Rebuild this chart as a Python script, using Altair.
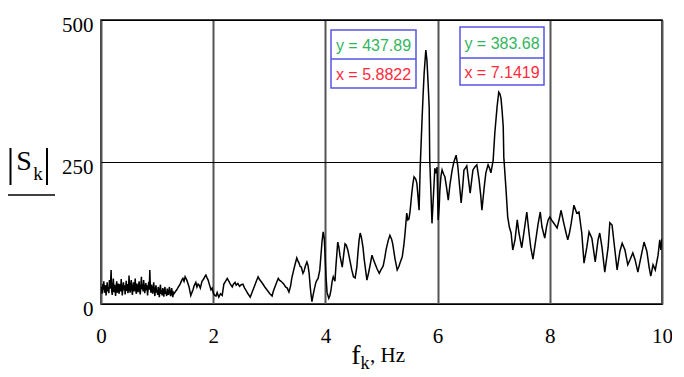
import altair as alt
import pandas as pd

# ---- data ----
noise_step = 0.01  # Hz spacing of the dense low-frequency part (0 .. 1.30 Hz)
noise_amp = [
    22, 30, 18, 35, 25, 40, 20, 28, 33, 15,
    26, 38, 22, 30, 19, 42, 27, 35, 60, 24,
    16, 30, 45, 21, 34, 26, 14, 31, 40, 20,
    28, 36, 18, 25, 35, 22, 44, 27, 15, 30,
    38, 24, 33, 17, 29, 41, 23, 35, 19, 27,
    50, 26, 20, 34, 42, 25, 16, 31, 38, 22,
    29, 45, 24, 18, 36, 27, 21, 33, 40, 23,
    17, 30, 48, 26, 35, 22, 42, 31, 19, 28,
    37, 24, 33, 15, 27, 39, 25, 60, 30, 20,
    34, 26, 18, 29, 38, 22, 14, 27, 33, 20,
    25, 16, 30, 22, 12, 26, 34, 18, 24, 15,
    28, 20, 13, 25, 30, 18, 22, 14, 27, 20,
    16, 24, 30, 19, 14, 22, 28, 17, 12, 20, 18,
]

tail_freq = [
    1.35, 1.38, 1.41, 1.44, 1.46, 1.48, 1.50, 1.52, 1.53, 1.55, 1.57, 1.59, 1.60, 1.62, 1.64, 1.66,
    1.69, 1.71, 1.73, 1.75, 1.77, 1.80, 1.83, 1.85, 1.87, 1.89, 1.91, 1.93, 1.96, 1.98, 2.00, 2.02,
    2.05, 2.07, 2.10, 2.13, 2.16, 2.19, 2.22, 2.25, 2.28, 2.30, 2.34, 2.36, 2.39, 2.41, 2.44, 2.47,
    2.50, 2.53, 2.56, 2.58, 2.62, 2.66, 2.69, 2.73, 2.76, 2.80, 2.82, 2.85, 2.88, 2.92, 2.95, 2.98,
    3.01, 3.05, 3.07, 3.10, 3.13, 3.16, 3.18, 3.21, 3.24, 3.26, 3.29, 3.32, 3.35, 3.38, 3.40, 3.43,
    3.46, 3.49, 3.51, 3.53, 3.55, 3.57, 3.60, 3.62, 3.64, 3.67, 3.69, 3.71, 3.73, 3.74, 3.76, 3.78,
    3.80, 3.83, 3.85, 3.87, 3.90, 3.92, 3.94, 3.96, 3.98, 3.99, 4.01, 4.03, 4.06, 4.08, 4.10, 4.12,
    4.14, 4.17, 4.19, 4.22, 4.24, 4.26, 4.30, 4.33, 4.35, 4.37, 4.40, 4.44, 4.47, 4.50, 4.53, 4.56,
    4.58, 4.60, 4.62, 4.64, 4.67, 4.69, 4.71, 4.74, 4.77, 4.80, 4.83, 4.85, 4.88, 4.92, 4.96, 4.99,
    5.03, 5.06, 5.08, 5.12, 5.15, 5.18, 5.20, 5.24, 5.28, 5.31, 5.33, 5.37, 5.40, 5.42, 5.45, 5.47,
    5.49, 5.51, 5.54, 5.56, 5.58, 5.61, 5.63, 5.65, 5.67, 5.69, 5.72, 5.74, 5.76, 5.79, 5.81, 5.83,
    5.85, 5.86, 5.88, 5.90, 5.92, 5.94, 5.95, 5.97, 5.99, 6.01, 6.03, 6.04, 6.06, 6.08, 6.11, 6.13,
    6.16, 6.19, 6.22, 6.26, 6.29, 6.33, 6.36, 6.39, 6.42, 6.45, 6.47, 6.50, 6.52, 6.55, 6.58, 6.61,
    6.63, 6.67, 6.70, 6.74, 6.77, 6.79, 6.83, 6.86, 6.90, 6.93, 6.95, 6.99, 7.02, 7.06, 7.09, 7.11,
    7.13, 7.15, 7.17, 7.18, 7.22, 7.25, 7.28, 7.31, 7.34, 7.38, 7.42, 7.45, 7.50, 7.53, 7.56, 7.59,
    7.63, 7.66, 7.70, 7.75, 7.79, 7.83, 7.86, 7.91, 7.94, 7.97, 8.00, 8.03, 8.06, 8.13, 8.17, 8.20,
    8.25, 8.29, 8.32, 8.35, 8.38, 8.43, 8.48, 8.52, 8.57, 8.61, 8.66, 8.70, 8.75, 8.81, 8.86, 8.89,
    8.93, 8.98, 9.04, 9.07, 9.11, 9.16, 9.20, 9.25, 9.29, 9.34, 9.39, 9.43, 9.48, 9.52, 9.57, 9.64,
    9.68, 9.73, 9.77, 9.80, 9.84, 9.88, 9.93, 9.96, 9.98, 10.0,
]
tail_amp = [
    25, 30, 35, 42, 45, 40, 48, 44, 42, 36, 30, 20, 15, 20, 25, 32,
    38, 30, 35, 33, 28, 40, 44, 48, 51, 46, 42, 35, 25, 28, 20, 16,
    14, 20, 12, 18, 15, 35, 40, 45, 40, 36, 30, 35, 38, 33, 36, 31,
    34, 35, 28, 25, 18, 12, 20, 30, 38, 48, 44, 40, 36, 30, 26, 22,
    18, 14, 22, 30, 38, 45, 42, 40, 37, 35, 30, 28, 21, 32, 45, 58,
    70, 81, 76, 72, 66, 65, 54, 58, 66, 74, 68, 54, 30, 20, 4, 15,
    25, 38, 42, 45, 60, 85, 110, 127, 115, 95, 50, 20, 10, 15, 25, 40,
    48, 40, 70, 109, 100, 85, 65, 90, 106, 104, 95, 75, 60, 48, 46, 65,
    90, 112, 125, 118, 100, 80, 65, 42, 55, 70, 86, 80, 72, 62, 54, 60,
    67, 82, 95, 112, 121, 114, 106, 80, 60, 66, 72, 83, 105, 125, 160, 148,
    150, 164, 195, 212, 224, 220, 213, 190, 165, 241, 318, 365, 406, 447, 429, 390,
    347, 253, 200, 142, 180, 218, 239, 230, 241, 148, 175, 200, 225, 236, 228, 224,
    205, 183, 210, 236, 250, 262, 243, 210, 178, 210, 236, 240, 243, 220, 195, 220,
    236, 242, 245, 218, 190, 165, 205, 231, 245, 238, 231, 253, 301, 347, 373, 370,
    362, 340, 312, 259, 201, 153, 135, 125, 95, 113, 148, 125, 99, 120, 141, 162,
    125, 100, 79, 113, 140, 162, 136, 116, 135, 148, 153, 148, 144, 134, 150, 165,
    142, 125, 113, 125, 141, 174, 160, 162, 125, 72, 100, 127, 116, 74, 113, 125,
    100, 56, 100, 143, 139, 95, 60, 93, 107, 95, 69, 78, 90, 78, 56, 90,
    109, 93, 65, 49, 69, 60, 86, 113, 95, 115,
]

x_ticks = [0, 2, 4, 6, 8, 10]
y_ticks = [0, 250, 500]
peak_y_text = ["y = 437.89", "y = 383.68"]
peak_x_text = ["x = 5.8822", "x = 7.1419"]

freq = [round(i * noise_step, 2) for i in range(len(noise_amp))] + tail_freq
amp = noise_amp + tail_amp
df = pd.DataFrame({"f": freq, "S": amp})

one = pd.DataFrame({"k": [0]})

line = alt.Chart(df).mark_line(color="black", strokeWidth=1.5, clip=True).encode(
    x=alt.X("f:Q", scale=alt.Scale(domain=[0, 10], nice=False, zero=False),
            axis=alt.Axis(values=x_ticks, title=None, grid=True, gridColor="#555555",
                          gridWidth=2, ticks=False, domain=False,
                          labelFont="Liberation Serif", labelFontSize=21,
                          labelColor="black", labelPadding=32, labelBaseline="middle",
                          labelAngle=0, labelFlush=False)),
    y=alt.Y("S:Q", scale=alt.Scale(domain=[0, 500], nice=False),
            axis=alt.Axis(values=y_ticks, title=None, grid=True, gridColor="black",
                          gridWidth=1, ticks=False, domain=False,
                          labelFont="Liberation Serif", labelFontSize=21,
                          labelColor="black", labelPadding=8, labelOffset=5)),
)

layers = [line]

# annotation boxes (readouts)
boxes = [
    (230, 315, 10, 68, 39),
    (359, 443, 7, 65, 38),
]
for i, (x0, x1, y0, y1, ym) in enumerate(boxes):
    layers.append(alt.Chart(one).mark_rect(fill="white", stroke="#5555e0", strokeWidth=1.5).encode(
        x=alt.value(x0), x2=alt.value(x1), y=alt.value(y0), y2=alt.value(y1)))
    layers.append(alt.Chart(one).mark_rule(color="#5555e0", strokeWidth=1.5).encode(
        x=alt.value(x0), x2=alt.value(x1), y=alt.value(ym)))
    cx = (x0 + x1) / 2
    layers.append(alt.Chart(pd.DataFrame({"t": [peak_y_text[i]]})).mark_text(
        font="Liberation Sans", fontSize=16, color="#33b560", align="center", baseline="middle").encode(
        x=alt.value(cx), y=alt.value((y0 + ym) / 2 + 1), text="t:N"))
    layers.append(alt.Chart(pd.DataFrame({"t": [peak_x_text[i]]})).mark_text(
        font="Liberation Sans", fontSize=16, color="#ff2a3c", align="center", baseline="middle").encode(
        x=alt.value(cx), y=alt.value((ym + y1) / 2 + 1), text="t:N"))

# y title |S_k| with underline
layers.append(alt.Chart(one).mark_rule(color="black", strokeWidth=2).encode(
    x=alt.value(-90.5), y=alt.value(128), y2=alt.value(165)))
layers.append(alt.Chart(one).mark_rule(color="black", strokeWidth=2).encode(
    x=alt.value(-54), y=alt.value(128), y2=alt.value(165)))
layers.append(alt.Chart(one).mark_rule(color="black", strokeWidth=1.5).encode(
    x=alt.value(-93), x2=alt.value(-46), y=alt.value(175)))
layers.append(alt.Chart(pd.DataFrame({"t": ["S"]})).mark_text(
    font="Liberation Serif", fontSize=28, color="black", align="center", baseline="alphabetic").encode(
    x=alt.value(-77), y=alt.value(150), text="t:N"))
layers.append(alt.Chart(pd.DataFrame({"t": ["k"]})).mark_text(
    font="Liberation Serif", fontSize=19, color="black", align="center", baseline="alphabetic").encode(
    x=alt.value(-63), y=alt.value(160), text="t:N"))

# x title f_k, Hz
layers.append(alt.Chart(pd.DataFrame({"t": ["f"]})).mark_text(
    font="Liberation Serif", fontSize=28, color="black", align="center", baseline="alphabetic").encode(
    x=alt.value(255), y=alt.value(344), text="t:N"))
layers.append(alt.Chart(pd.DataFrame({"t": ["k"]})).mark_text(
    font="Liberation Serif", fontSize=18, color="black", align="center", baseline="alphabetic").encode(
    x=alt.value(264), y=alt.value(349), text="t:N"))
layers.append(alt.Chart(pd.DataFrame({"t": [", Hz"]})).mark_text(
    font="Liberation Serif", fontSize=21, color="black", align="left", baseline="alphabetic").encode(
    x=alt.value(269), y=alt.value(342), text="t:N"))

chart = alt.layer(*layers).properties(
    width=561, height=284,
    autosize=alt.AutoSizeParams(type="none"),
    padding={"left": 93, "top": 12, "right": 10, "bottom": 72},
    background="white",
).configure_view(stroke="black", strokeWidth=1.5)

chart.save("out.html", embed_options={"renderer": "svg", "actions": False})
